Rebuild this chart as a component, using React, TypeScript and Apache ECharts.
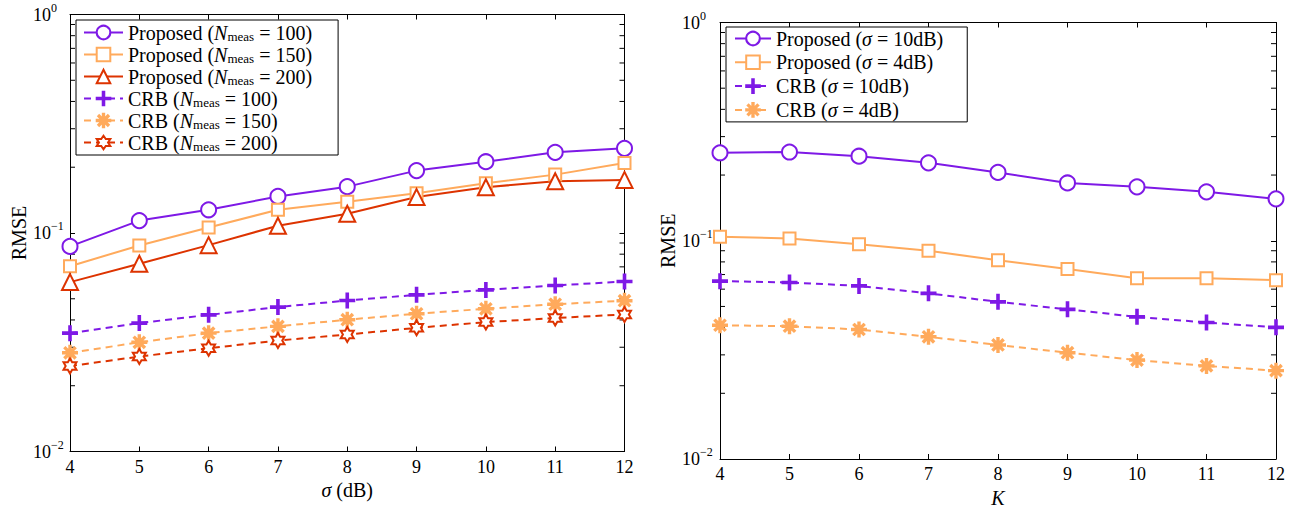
import React, { useEffect, useRef } from 'react';
import * as echarts from 'echarts';

// ---------- data ----------
const xValues = [4, 5, 6, 7, 8, 9, 10, 11, 12];

// left panel: RMSE vs sigma (dB)
const propN100 = [0.0868, 0.114, 0.1277, 0.147, 0.163, 0.193, 0.212, 0.234, 0.244];
const propN150 = [0.0705, 0.0877, 0.106, 0.1277, 0.139, 0.152, 0.169, 0.185, 0.209];
const propN200 = [0.0596, 0.0723, 0.088, 0.108, 0.1224, 0.146, 0.162, 0.1726, 0.175];
const crbN100 = [0.0348, 0.0387, 0.0422, 0.0458, 0.0491, 0.0521, 0.0549, 0.0575, 0.060];
const crbN150 = [0.0283, 0.0316, 0.0348, 0.0374, 0.0401, 0.0427, 0.045, 0.0472, 0.049];
const crbN200 = [0.0246, 0.0272, 0.0297, 0.0322, 0.0343, 0.0368, 0.0391, 0.0408, 0.0424];

// right panel: RMSE vs K
const propS10 = [0.253, 0.255, 0.244, 0.2275, 0.2056, 0.184, 0.1766, 0.1675, 0.1556];
const propS4 = [0.1042, 0.1025, 0.0964, 0.0899, 0.0815, 0.0743, 0.0674, 0.0674, 0.066];
const crbS10 = [0.0653, 0.0644, 0.0621, 0.0574, 0.0525, 0.0485, 0.0448, 0.0422, 0.0401];
const crbS4 = [0.041, 0.0406, 0.0392, 0.0363, 0.0333, 0.0307, 0.0284, 0.0267, 0.0254];

const leftNames = [
  'Proposed (Nmeas = 100)',
  'Proposed (Nmeas = 150)',
  'Proposed (Nmeas = 200)',
  'CRB (Nmeas = 100)',
  'CRB (Nmeas = 150)',
  'CRB (Nmeas = 200)',
];
const rightNames = [
  'Proposed (σ = 10dB)',
  'Proposed (σ = 4dB)',
  'CRB (σ = 10dB)',
  'CRB (σ = 4dB)',
];

const minorTickValues = [0.02, 0.03, 0.04, 0.05, 0.06, 0.07, 0.08, 0.09, 0.2, 0.3, 0.4, 0.5, 0.6, 0.7, 0.8, 0.9];

// ---------- styles ----------
const PURPLE = '#7E19E6';
const ORANGE = '#FFAA5C';
const RED = '#DD3300';
const FONT = 'Liberation Serif';

const PLUS = 'path://M-0.8,-7H0.8V-0.8H7V0.8H0.8V7H-0.8V0.8H-7V-0.8H-0.8Z';
const ASTER =
  'path://M-0.7,-7H0.7V7H-0.7Z M-7,-0.7H7V0.7H-7Z M-4.45,-5.44L5.44,4.45L4.45,5.44L-5.44,-4.45Z M4.45,-5.44L5.44,-4.45L-4.45,5.44L-5.44,4.45Z';
const HEXA =
  'path://M0,-6L1.732,-3L5.196,-3L3.464,0L5.196,3L1.732,3L0,6L-1.732,3L-5.196,3L-3.464,0L-5.196,-3L-1.732,-3Z';

function lineSeries(
  name: string,
  values: number[],
  color: string,
  symbol: string,
  size: number,
  dashed: boolean,
  idx: number,
  hollowPath = false
) {
  return {
    type: 'line',
    name,
    xAxisIndex: idx * 2,
    yAxisIndex: idx * 2,
    data: xValues.map((x, i) => [x, values[i]]),
    symbol,
    symbolSize: size,
    symbolKeepAspect: true,
    showAllSymbol: true,
    lineStyle: { color, width: 2, type: dashed ? [7, 5] : 'solid' },
    itemStyle: hollowPath
      ? { color: '#ffffff', borderColor: color, borderWidth: 2 }
      : { color, borderColor: color, borderWidth: 2 },
    emphasis: { disabled: true },
    z: 3,
  };
}

function minorTicks(idx: number, xmin: number, xmax: number) {
  return {
    type: 'custom',
    xAxisIndex: idx * 2,
    yAxisIndex: idx * 2,
    silent: true,
    clip: false,
    data: minorTickValues.map((v) => [xmin, v]),
    renderItem: (_p: any, api: any) => {
      const v = api.value(1);
      const l = api.coord([xmin, v]);
      const r = api.coord([xmax, v]);
      return {
        type: 'group',
        children: [
          { type: 'line', shape: { x1: l[0], y1: l[1], x2: l[0] + 5, y2: l[1] }, style: { stroke: '#000', lineWidth: 1 } },
          { type: 'line', shape: { x1: r[0] - 5, y1: r[1], x2: r[0], y2: r[1] }, style: { stroke: '#000', lineWidth: 1 } },
        ],
      };
    },
    z: 2,
  };
}

const yLabelFormatter = (v: number) => {
  const e = Math.round(Math.log10(v));
  return `{b|10}{s|${e < 0 ? '−' + -e : e}}`;
};

const nameRich = {
  t: { fontFamily: FONT, fontSize: 20, color: '#000' },
  i: { fontFamily: FONT, fontSize: 20, fontStyle: 'italic', color: '#000' },
};

function axesFor(idx: number, xName: string) {
  const common = {
    gridIndex: idx,
    axisLine: { show: true, lineStyle: { color: '#000', width: 1 } },
    splitLine: { show: false },
  };
  const xBase = {
    ...common,
    type: 'value',
    min: 4,
    max: 12,
    interval: 1,
    axisTick: { show: true, inside: true, length: 5, lineStyle: { color: '#000' } },
  };
  const yBase = {
    ...common,
    type: 'log',
    logBase: 10,
    min: 0.01,
    max: 1,
    axisTick: { show: true, inside: true, length: 5, lineStyle: { color: '#000' } },
  };
  const xAxes = [
    {
      ...xBase,
      position: 'bottom',
      name: xName,
      nameLocation: 'middle',
      nameGap: idx === 0 ? 26 : 23,
      nameTextStyle: { fontFamily: FONT, fontSize: 20, color: '#000', rich: nameRich },
      axisLabel: {
        show: true,
        margin: 6,
        fontFamily: FONT,
        fontSize: 18,
        color: '#000',
        showMinLabel: true,
        showMaxLabel: true,
      },
    },
    { ...xBase, position: 'top', axisLabel: { show: false } },
  ];
  const yAxes = [
    {
      ...yBase,
      position: 'left',
      name: 'RMSE',
      nameLocation: 'middle',
      nameGap: idx === 0 ? 40 : 38,
      nameRotate: 90,
      nameTextStyle: { fontFamily: FONT, fontSize: 20, color: '#000' },
      axisLabel: {
        show: true,
        align: 'left',
        margin: idx === 0 ? 37 : 38,
        color: '#000',
        fontFamily: FONT,
        showMinLabel: true,
        showMaxLabel: true,
        formatter: yLabelFormatter,
        rich: {
          b: { fontFamily: FONT, fontSize: 18, color: '#000' },
          s: { fontFamily: FONT, fontSize: 12, lineHeight: 12, color: '#000', padding: [0, 0, 14, 0] },
        },
      },
    },
    { ...yBase, position: 'right', axisLabel: { show: false } },
  ];
  return { xAxes, yAxes };
}

const legendRich = {
  t: { fontFamily: FONT, fontSize: 20, color: '#000', lineHeight: 20 },
  i: { fontFamily: FONT, fontSize: 20, fontStyle: 'italic', color: '#000', lineHeight: 20 },
  sub: { fontFamily: FONT, fontSize: 13, color: '#000', lineHeight: 13, padding: [8, 0, 0, 0] },
};

const legendFormatter = (name: string) => {
  const m = name.match(/^(.*?\()(Nmeas|σ)(.*)$/);
  if (!m) return `{t|${name}}`;
  const mid = m[2] === 'Nmeas' ? '{i|N}{sub|meas}' : '{i|σ}';
  return `{t|${m[1]}}${mid}{t|${m[3]}}`;
};

export default function App() {
  const ref = useRef<HTMLDivElement>(null);

  useEffect(() => {
    if (!ref.current) return;
    const chart = echarts.init(ref.current, undefined, { renderer: 'svg' });
    const a0 = axesFor(0, '{i|σ}{t| (dB)}');
    const a1 = axesFor(1, '{i|K}');

    const option: any = {
      animation: false,
      backgroundColor: '#fff',
      grid: [
        { left: 70, top: 14.5, width: 554.5, height: 437, outerBoundsMode: 'none', containLabel: false },
        { left: 720, top: 22.5, width: 556, height: 436.5, outerBoundsMode: 'none', containLabel: false },
      ],
      xAxis: [...a0.xAxes, ...a1.xAxes],
      yAxis: [...a0.yAxes, ...a1.yAxes],
      legend: [
        {
          data: leftNames,
          orient: 'vertical',
          left: 76,
          top: 20,
          itemWidth: 39,
          itemHeight: 17,
          itemGap: 1,
          padding: [2, 26, 2, 7],
          backgroundColor: '#fff',
          borderColor: '#000',
          borderWidth: 1,
          borderRadius: 0,
          formatter: legendFormatter,
          textStyle: { fontFamily: FONT, fontSize: 20, color: '#000', lineHeight: 20, rich: legendRich },
          selectedMode: false,
        },
        {
          data: rightNames,
          orient: 'vertical',
          left: 726,
          top: 27,
          itemWidth: 36,
          itemHeight: 17,
          itemGap: 3.8,
          padding: [1.5, 24, 2, 8],
          backgroundColor: '#fff',
          borderColor: '#000',
          borderWidth: 1,
          borderRadius: 0,
          formatter: legendFormatter,
          textStyle: { fontFamily: FONT, fontSize: 20, color: '#000', lineHeight: 20, rich: legendRich },
          selectedMode: false,
        },
      ],
      series: [
        minorTicks(0, 4, 12),
        minorTicks(1, 4, 12),
        lineSeries(leftNames[0], propN100, PURPLE, 'emptyCircle', 15, false, 0),
        lineSeries(leftNames[1], propN150, ORANGE, 'emptyRect', 12, false, 0),
        lineSeries(leftNames[2], propN200, RED, 'emptyTriangle', 16, false, 0),
        lineSeries(leftNames[3], crbN100, PURPLE, PLUS, 14, true, 0),
        lineSeries(leftNames[4], crbN150, ORANGE, ASTER, 14, true, 0),
        lineSeries(leftNames[5], crbN200, RED, HEXA, 15, true, 0, true),
        lineSeries(rightNames[0], propS10, PURPLE, 'emptyCircle', 15, false, 1),
        lineSeries(rightNames[1], propS4, ORANGE, 'emptyRect', 12, false, 1),
        lineSeries(rightNames[2], crbS10, PURPLE, PLUS, 14, true, 1),
        lineSeries(rightNames[3], crbS4, ORANGE, ASTER, 14, true, 1),
      ],
    };
    chart.setOption(option);
    return () => chart.dispose();
  }, []);

  return (
    <div
      ref={ref}
      style={{ position: 'fixed', left: 0, top: 0, width: 1297, height: 508, background: '#fff' }}
    />
  );
}
